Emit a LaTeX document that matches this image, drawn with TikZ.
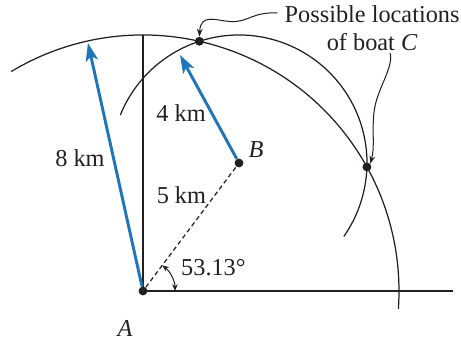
\documentclass[tikz,border=0pt]{standalone}
\usepackage{fontspec}
\setmainfont{Liberation Serif}
\usetikzlibrary{arrows.meta,calc}
\definecolor{Ink}{HTML}{231F20}
\definecolor{Sea}{HTML}{1F74BA}
\tikzset{
 thinline/.style={draw=Ink, line width=0.55pt},
 bluearrow/.style={-{Stealth[length=8pt,width=5.5pt,inset=2pt]}, line width=1.3pt, draw=Sea},
 leader/.style={-{Stealth[length=3.5pt,width=2.6pt]}, draw=Ink, line width=0.45pt},
 anglearrow/.style={{Stealth[length=3pt,width=2.4pt]}-{Stealth[length=3pt,width=2.4pt]}, draw=Ink, line width=0.45pt},
 dot/.style={circle, fill=Ink, inner sep=0pt, minimum size=3.8pt},
 txt/.style={font=\fontsize{10.8}{12.5}\selectfont, text=Ink, inner sep=1pt}
}

\begin{document}
\begin{tikzpicture}[x=0.5cm,y=0.5cm]
\useasboundingbox (-4.469,-1.5) rectangle (9.9375,9.094);
\node[dot] (A) at (0,0) {};
\node[dot] (B) at (3,4) {};
\node[dot] (C1) at (1.762,7.804) {};
\node[dot] (C2) at (6.998,3.876) {};
\coordinate (N) at (0,8);
\coordinate (E) at (9.69,0);
\coordinate (T1) at (-1.72,7.75);
\coordinate (T2) at ($(B)+(-1.844,3.375)$);
\coordinate (L1) at (4.2,8.69);
\coordinate (L2) at (7.72,7.44);

\draw[thinline] (A.center) -- (N);
\draw[thinline] (A.center) -- (E);
\draw[thinline] (121:8) arc[start angle=121, end angle=-4, radius=8];
\draw[thinline] ($(B)+(158:4)$) arc[start angle=158, end angle=-35, radius=4];
\draw[thinline, dash pattern=on 2pt off 1.4pt] (A) -- (B);
\draw[anglearrow] (53.13:1) arc[start angle=53.13, end angle=0, radius=1];

\draw[bluearrow] (A) -- (T1);
\draw[bluearrow] (B) -- (T2);

\draw[leader] (L1) .. controls (3.4,8.72) and (3.3,8.4) .. (2.75,8.42) .. controls (2.3,8.44) and (1.8,8.7) .. (C1.north);
\draw[leader] (L2) .. controls (7.85,7.0) and (7.3,6.3) .. (7.22,5.6) .. controls (7.15,5.0) and (7.25,4.5) .. (C2.north east);

\node[dot] at (A) {};
\node[dot] at (B) {};
\node[dot] at (C1) {};
\node[dot] at (C2) {};

\node[txt] (lab8) at (-1.97,4.16) {8 km};
\node[txt] (lab4) at (1.19,5.56) {4 km};
\node[txt] (lab5) at (1.20,3.0) {5 km};
\node[txt] (labang) at (2.2,0.73) {53.13°};
\node[txt] (labA) at (-0.56,-1.18) {\textit{A}};
\node[txt] (labB) at (3.53,4.41) {\textit{B}};
\node[txt, align=center] (boat) at (7.16,8.2) {Possible locations\\of boat \textit{C}};
\end{tikzpicture}
\end{document}
